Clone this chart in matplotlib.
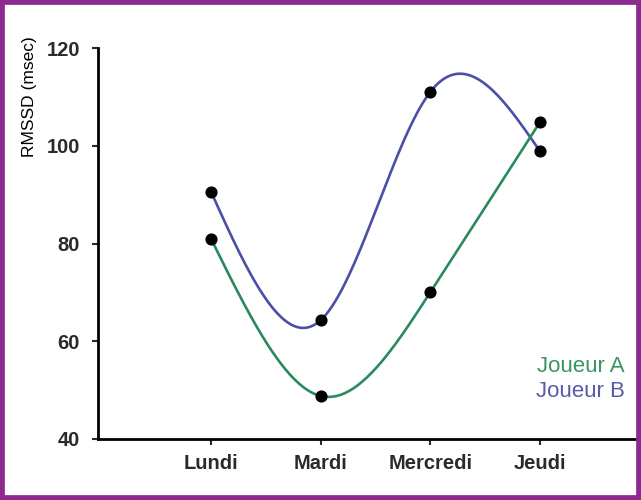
import numpy as np
import matplotlib
matplotlib.use("Agg")
import matplotlib.pyplot as plt
from matplotlib.patches import Rectangle

plt.rcParams['font.family'] = ['Liberation Sans', 'DejaVu Sans']

jours = ["Lundi", "Mardi", "Mercredi", "Jeudi"]
joueur_a = [81.0, 48.8, 70.0, 104.8]
joueur_b = [90.6, 64.3, 111.0, 98.9]
y_ticks = [40, 60, 80, 100, 120]

col_a = "#2b8a5c"
col_b = "#4b4fa6"


def natural_spline(x, y, n=300):
    # natural cubic spline, plain numpy
    x = np.asarray(x, float)
    y = np.asarray(y, float)
    k = len(x)
    h = np.diff(x)
    A = np.zeros((k, k))
    r = np.zeros(k)
    A[0, 0] = A[-1, -1] = 1
    for i in range(1, k - 1):
        A[i, i - 1] = h[i - 1]
        A[i, i] = 2 * (h[i - 1] + h[i])
        A[i, i + 1] = h[i]
        r[i] = 3 * ((y[i + 1] - y[i]) / h[i] - (y[i] - y[i - 1]) / h[i - 1])
    c = np.linalg.solve(A, r)
    xs = np.linspace(x[0], x[-1], n)
    ys = np.empty_like(xs)
    for j, xv in enumerate(xs):
        i = min(np.searchsorted(x, xv, side="right") - 1, k - 2)
        d = xv - x[i]
        b = (y[i + 1] - y[i]) / h[i] - h[i] * (2 * c[i] + c[i + 1]) / 3
        dd = (c[i + 1] - c[i]) / (3 * h[i])
        ys[j] = y[i] + b * d + c[i] * d ** 2 + dd * d ** 3
    return xs, ys


fig = plt.figure(figsize=(6.41, 5.0), dpi=100)
ax = fig.add_axes([0.153, 0.122, 0.85, 0.782])

x = np.arange(len(jours))
for vals, col in [(joueur_b, col_b), (joueur_a, col_a)]:
    xs, ys = natural_spline(x, vals)
    ax.plot(xs, ys, color=col, lw=1.9, zorder=2)
for vals in [joueur_a, joueur_b]:
    ax.scatter(x, vals, s=60, color="black", zorder=3)

ax.set_ylim(40, 120)
ax.set_xlim(-1.03, 3.94)
ax.set_yticks(y_ticks)
ax.set_xticks(x)
ax.set_xticklabels(jours)
ax.tick_params(labelsize=14.5, width=1.5, length=4, colors="#2a2a2a")
ax.tick_params(axis="y", pad=9)
ax.tick_params(axis="x", pad=7)
for lab in ax.get_xticklabels() + ax.get_yticklabels():
    lab.set_fontweight("bold")
for s in ["top", "right"]:
    ax.spines[s].set_visible(False)
ax.spines["left"].set_linewidth(2)
ax.spines["bottom"].set_linewidth(2)
ax.set_ylabel("RMSSD (msec)", fontsize=12.5)
ax.yaxis.set_label_coords(-0.112, 0.875)

ax.text(0.967, 0.172, "Joueur A", color="#3a9565", fontsize=16, ha="right",
        transform=ax.transAxes)
ax.text(0.967, 0.108, "Joueur B", color="#5a5aaa", fontsize=16, ha="right",
        transform=ax.transAxes)

fig.add_artist(Rectangle((0, 0), 1, 1, transform=fig.transFigure, fill=False,
                         ec="#8e2a8f", lw=7, clip_on=False))

fig.savefig("out.png", dpi=100)
